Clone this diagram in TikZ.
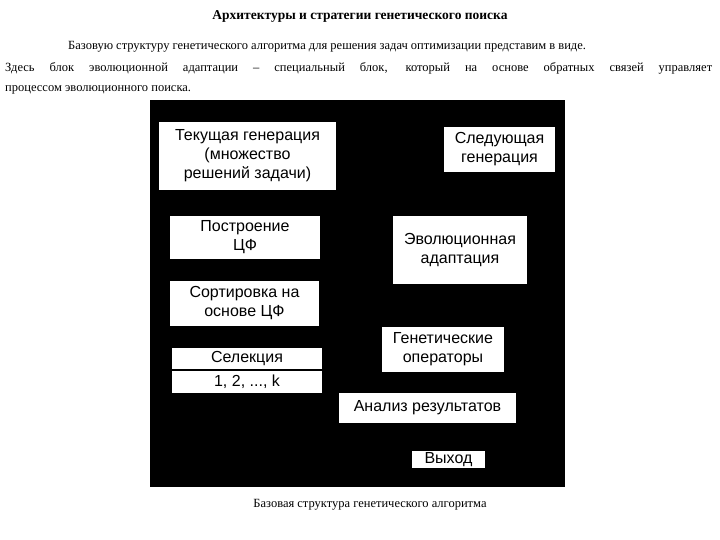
\documentclass[tikz,border=0pt]{standalone}
\usepackage{fontspec}
\setmainfont{Liberation Serif}
\newfontfamily\boxfont{Liberation Sans}
\begin{document}
\begin{tikzpicture}[x=1pt,y=-1pt,
  wb/.style={fill=white,draw=none},
  bt/.style={font=\boxfont\fontsize{16}{19}\selectfont,align=center,inner sep=0pt},
  pt/.style={font=\fontsize{12.5}{15}\selectfont,inner sep=0pt,anchor=base west}]
\useasboundingbox[fill=white] (0,0) rectangle (720,540);
\node[font=\bfseries\fontsize{13.5}{16}\selectfont,inner sep=0pt] (title) at (360,17) {Архитектуры и стратегии генетического поиска};
\node[pt] (p1) at (68,50) {Базовую структуру генетического алгоритма для решения задач оптимизации представим в виде.};
\node[pt] (p2) at (5,72) {\makebox[707pt][s]{Здесь блок эволюционной адаптации -- специальный блок, который на основе обратных связей управляет}};
\node[pt] (p3) at (5,92) {процессом эволюционного поиска.};
\fill[black] (150,100) rectangle (565,487);
\fill[wb] (159,122) rectangle (336,190);
\node[bt] (cur) at (247.5,156) {Текущая генерация\\(множество\\решений задачи)};
\fill[wb] (444,127) rectangle (555,172);
\node[bt] (next) at (499.5,149.5) {Следующая\\генерация};
\fill[wb] (170,216) rectangle (320,259);
\node[bt] (cf) at (245,237.5) {Построение\\ЦФ};
\fill[wb] (393,216) rectangle (527,284);
\node[bt] (evo) at (460,250) {Эволюционная\\адаптация};
\fill[wb] (170,281) rectangle (319,326);
\node[bt] (sort) at (244.5,303.5) {Сортировка на\\основе ЦФ};
\fill[wb] (382,327) rectangle (504,372);
\node[bt] (gen) at (443,349.5) {Генетические\\операторы};
\fill[wb] (172,348) rectangle (322,393);
\draw[black,line width=2pt] (172,370) -- (322,370);
\node[bt] (sel) at (247,359) {Селекция};
\node[bt] (selk) at (247,381.5) {1, 2, ..., k};
\fill[wb] (339,393) rectangle (516,423);
\node[bt] (an) at (427.5,408) {Анализ результатов};
\fill[wb] (412,451) rectangle (485,468);
\node[bt] (out) at (448.5,459.5) {Выход};
\node[font=\fontsize{12.5}{15}\selectfont,inner sep=0pt] (cap) at (370,505) {Базовая структура генетического алгоритма};
\end{tikzpicture}
\end{document}
